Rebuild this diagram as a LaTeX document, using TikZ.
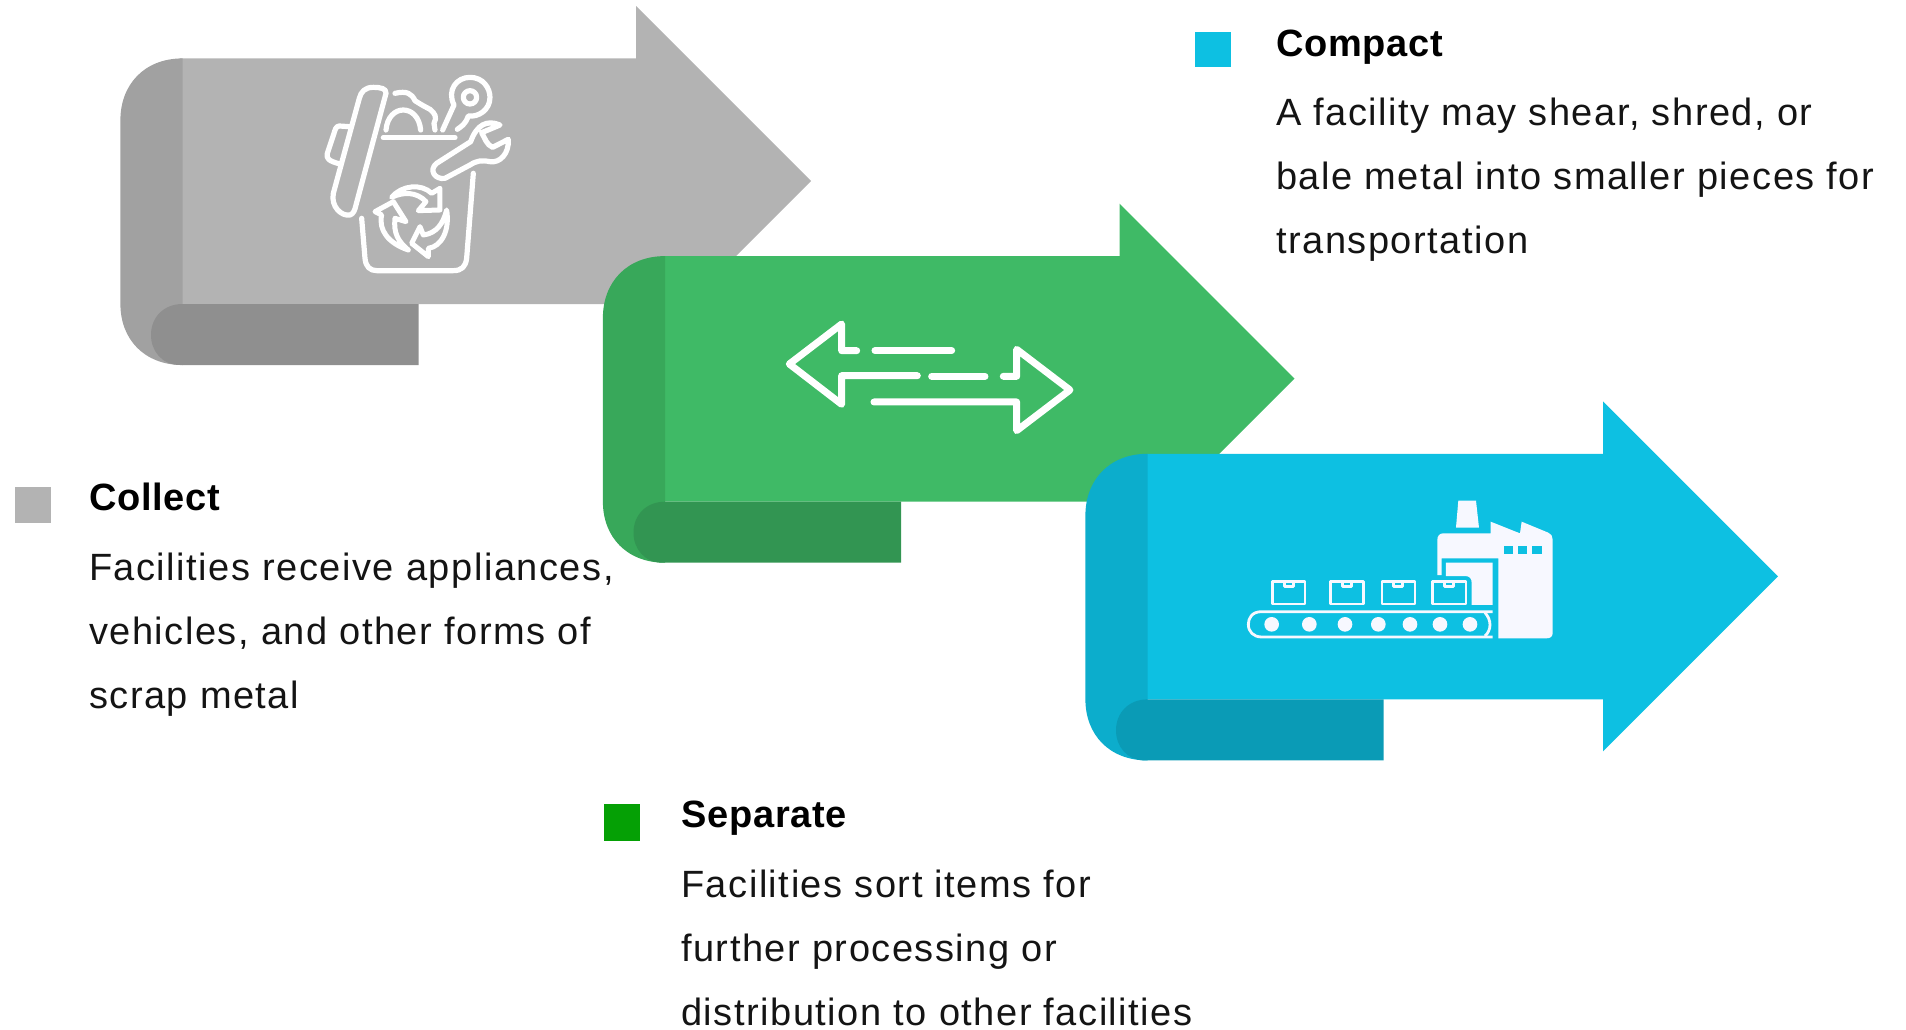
\documentclass[tikz,border=0pt]{standalone}
\usepackage{fontspec}
\setmainfont[FakeStretch=1.0,LetterSpace=4]{Liberation Sans}
\newfontfamily\titlef[LetterSpace=2]{Liberation Sans}
\definecolor{gmain}{HTML}{B3B3B3}\definecolor{gshade}{HTML}{A1A1A1}\definecolor{gband}{HTML}{8F8F8F}
\definecolor{vmain}{HTML}{3FBA66}\definecolor{vshade}{HTML}{38A85A}\definecolor{vband}{HTML}{329552}
\definecolor{bmain}{HTML}{0DC0E2}\definecolor{bshade}{HTML}{0CADCC}\definecolor{bband}{HTML}{0A9BB6}
\definecolor{sqgreen}{HTML}{05A005}\definecolor{iconw}{HTML}{F7F8FF}
\newcommand{\bigarrow}[6]{%
\begin{scope}[shift={(#1,#2)}]
\fill[#3] (180,58.4) -- (636,58.4) -- (636,6) -- (811,181) -- (636,356) -- (636,304) -- (180,304) -- cycle;
\begin{scope}[shift={(#6,0)}]
\fill[#4] (182.5,58.4) .. controls (144,58.4) and (120.4,85) .. (120.4,120) -- (120.4,304) .. controls (120.4,339) and (144,365) .. (182.5,365) -- cycle;
\fill[#5] (182.5,304) -- (418.5,304) -- (418.5,365) -- (180,365) .. controls (162,365) and (151,351) .. (151,335) .. controls (151,317) and (164,304) .. (182.5,304) -- cycle;
\end{scope}
\end{scope}}
\tikzset{
 titletext/.style={anchor=base west,inner sep=0pt,font=\fontsize{38}{44}\selectfont\titlef\bfseries,text=black},
 bodytext/.style={anchor=base west,inner sep=0pt,font=\fontsize{38}{44}\selectfont,text=black!92},
 iconline/.style={draw=white,line width=5.2pt,line cap=round,line join=round,fill=none},
 iconarrow/.style={draw=white,line width=7pt,line cap=round,line join=round},
 recyc/.style={draw=white,line width=5pt,line join=round},
 factory/.style={fill=iconw,draw=none},
 boxline/.style={draw=iconw,line width=2.8pt,line join=round,fill=none},
}
\begin{document}
\begin{tikzpicture}[x=1pt,y=-1pt]
\useasboundingbox (0,0) rectangle (1906,1029);
\bigarrow{0}{0}{gmain}{gshade}{gband}{0}
\bigarrow{483.5}{197.7}{vmain}{vshade}{vband}{-1}
\bigarrow{967}{395.4}{bmain}{bshade}{bband}{-2}
% squares
\fill[gmain] (15,487) rectangle (51,523);
\fill[sqgreen] (603.5,804) rectangle (640,840.5);
\fill[bmain] (1194.5,31.5) rectangle (1230.5,67);
% text
\node[titletext] (t1) at (88.8,510) {Collect};
\node[bodytext] (b11) at (88.8,580) {Facilities receive appliances,};
\node[bodytext] (b12) at (88.8,644) {vehicles, and other forms of};
\node[bodytext] (b13) at (88.8,708) {scrap metal};
\node[titletext] (t2) at (681,827) {Separate};
\node[bodytext] (b21) at (681,897) {Facilities sort items for};
\node[bodytext] (b22) at (681,961) {further processing or};
\node[bodytext] (b23) at (681,1025) {distribution to other facilities};
\node[titletext] (t3) at (1276,56) {Compact};
\node[bodytext] (b31) at (1276,125) {A facility may shear, shred, or};
\node[bodytext] (b32) at (1276,189) {bale metal into smaller pieces for};
\node[bodytext] (b33) at (1276,253) {transportation};
% icon 1
\begin{scope}[shift={(300,60)},x=0.3333pt,y=-0.3333pt]
\draw[iconline] (185,475) -- (195,595) .. controls (197,620) and (210,632) .. (230,632) -- (460,632) .. controls (485,632) and (497,620) .. (500,595) -- (520,340);
\draw[iconline] (258,100) .. controls (260,85) and (240,82) .. (220,82) .. controls (195,82) and (183,95) .. (178,115) -- (100,400) .. controls (92,440) and (125,470) .. (150,465) .. controls (160,462) and (165,450) .. (168,435) -- cycle;
\draw[iconline] (148,200) -- (118,198) .. controls (108,198) and (105,210) .. (102,220) -- (82,280) .. controls (78,295) and (85,303) .. (120,312);
\draw[iconline] (285,100) .. controls (320,92) and (335,100) .. (345,122) .. controls (365,135) and (375,140) .. (390,148) .. controls (405,160) and (412,172) .. (402,190) -- (405,210);
\draw[iconline] (258,210) .. controls (265,130) and (355,130) .. (362,210);
\draw[iconline] (250,233) -- (465,233);
\draw[iconline] (428,210) -- (462,135) .. controls (440,90) and (470,52) .. (510,52) .. controls (550,52) and (570,85) .. (570,112) .. controls (570,150) and (535,172) .. (505,168) .. controls (495,195) and (485,198) .. (472,208);
\draw[iconline] (510,112) circle[radius=20];
\draw[iconline] (600,195) .. controls (560,178) and (530,195) .. (512,245) -- (410,310) .. controls (385,330) and (405,360) .. (435,355) -- (510,315) .. controls (530,302) and (545,300) .. (570,305) .. controls (600,310) and (628,280) .. (625,238) -- (578,262) .. controls (560,255) and (555,235) .. (545,218) -- cycle;
\draw[recyc] (275,412) .. controls (305,375) and (365,370) .. (395,400) -- (420,385) -- (420,450) -- (355,452) -- (378,425) .. controls (350,395) and (310,395) .. (275,412) -- cycle;
\draw[recyc] (325,570) .. controls (265,550) and (235,510) .. (245,465) -- (225,455) -- (280,425) -- (318,485) -- (285,475) .. controls (280,520) and (295,545) .. (325,570) -- cycle;
\draw[recyc] (440,450) .. controls (450,510) and (425,560) .. (385,565) -- (385,590) -- (335,550) -- (360,500) -- (370,525) .. controls (410,520) and (430,490) .. (440,450) -- cycle;
\end{scope}
% icon 2
\begin{scope}[shift={(770,310)},x=0.3333pt,y=-0.3333pt]
\draw[iconarrow] (260,122) -- (215,122) -- (215,42) -- (58,162) -- (215,283) -- (215,197) -- (442,197);
\draw[iconarrow] (315,122) -- (545,122);
\draw[iconarrow] (485,199) -- (645,199);
\draw[iconarrow] (700,199) -- (740,199) -- (740,118) -- (900,240) -- (740,362) -- (740,276) -- (312,276);
\end{scope}
% icon 3
\begin{scope}[shift={(1240,490)},x=0.3333pt,y=-0.3333pt]
\fill[factory] (655,32) -- (708,32) -- (717,113) -- (648,113) -- cycle;
\fill[factory] (592,150) .. controls (592,138) and (598,130) .. (610,130) -- (752,130) -- (752,95) -- (840,130) -- (845,95) -- (925,128) .. controls (933,131) and (938,138) .. (938,148) -- (938,430) .. controls (938,440) and (930,445) .. (920,445) -- (775,445) -- (775,205) -- (605,205) -- (605,255) -- (592,255) -- cycle;
\fill[factory] (618,218) -- (758,218) -- (758,345) -- (695,345) -- (695,278) .. controls (695,265) and (688,258) .. (675,258) -- (618,258) -- cycle;
\fill[bmain] (792,167) rectangle (820,192);
\fill[bmain] (835,167) rectangle (862,192);
\fill[bmain] (877,167) rectangle (905,192);
\foreach \bx/\by in {98/195,272/370,426/525,578/678}{
 \draw[boxline] (\bx,274) rectangle (\by,342);
 \draw[boxline] (\bx+35,276) -- (\bx+35,290) -- (\bx+62,290) -- (\bx+62,276);
}
\draw[boxline] (758,365) -- (65,365) .. controls (35,365) and (25,385) .. (25,403) .. controls (25,425) and (40,441) .. (65,441) -- (758,441);
\draw[boxline] (735,368) .. controls (755,390) and (755,420) .. (735,438);
\foreach \rx in {95,208,315,415,510,600,690}{\fill[factory] (\rx,403) circle[radius=22];}
\end{scope}
\end{tikzpicture}
\end{document}
